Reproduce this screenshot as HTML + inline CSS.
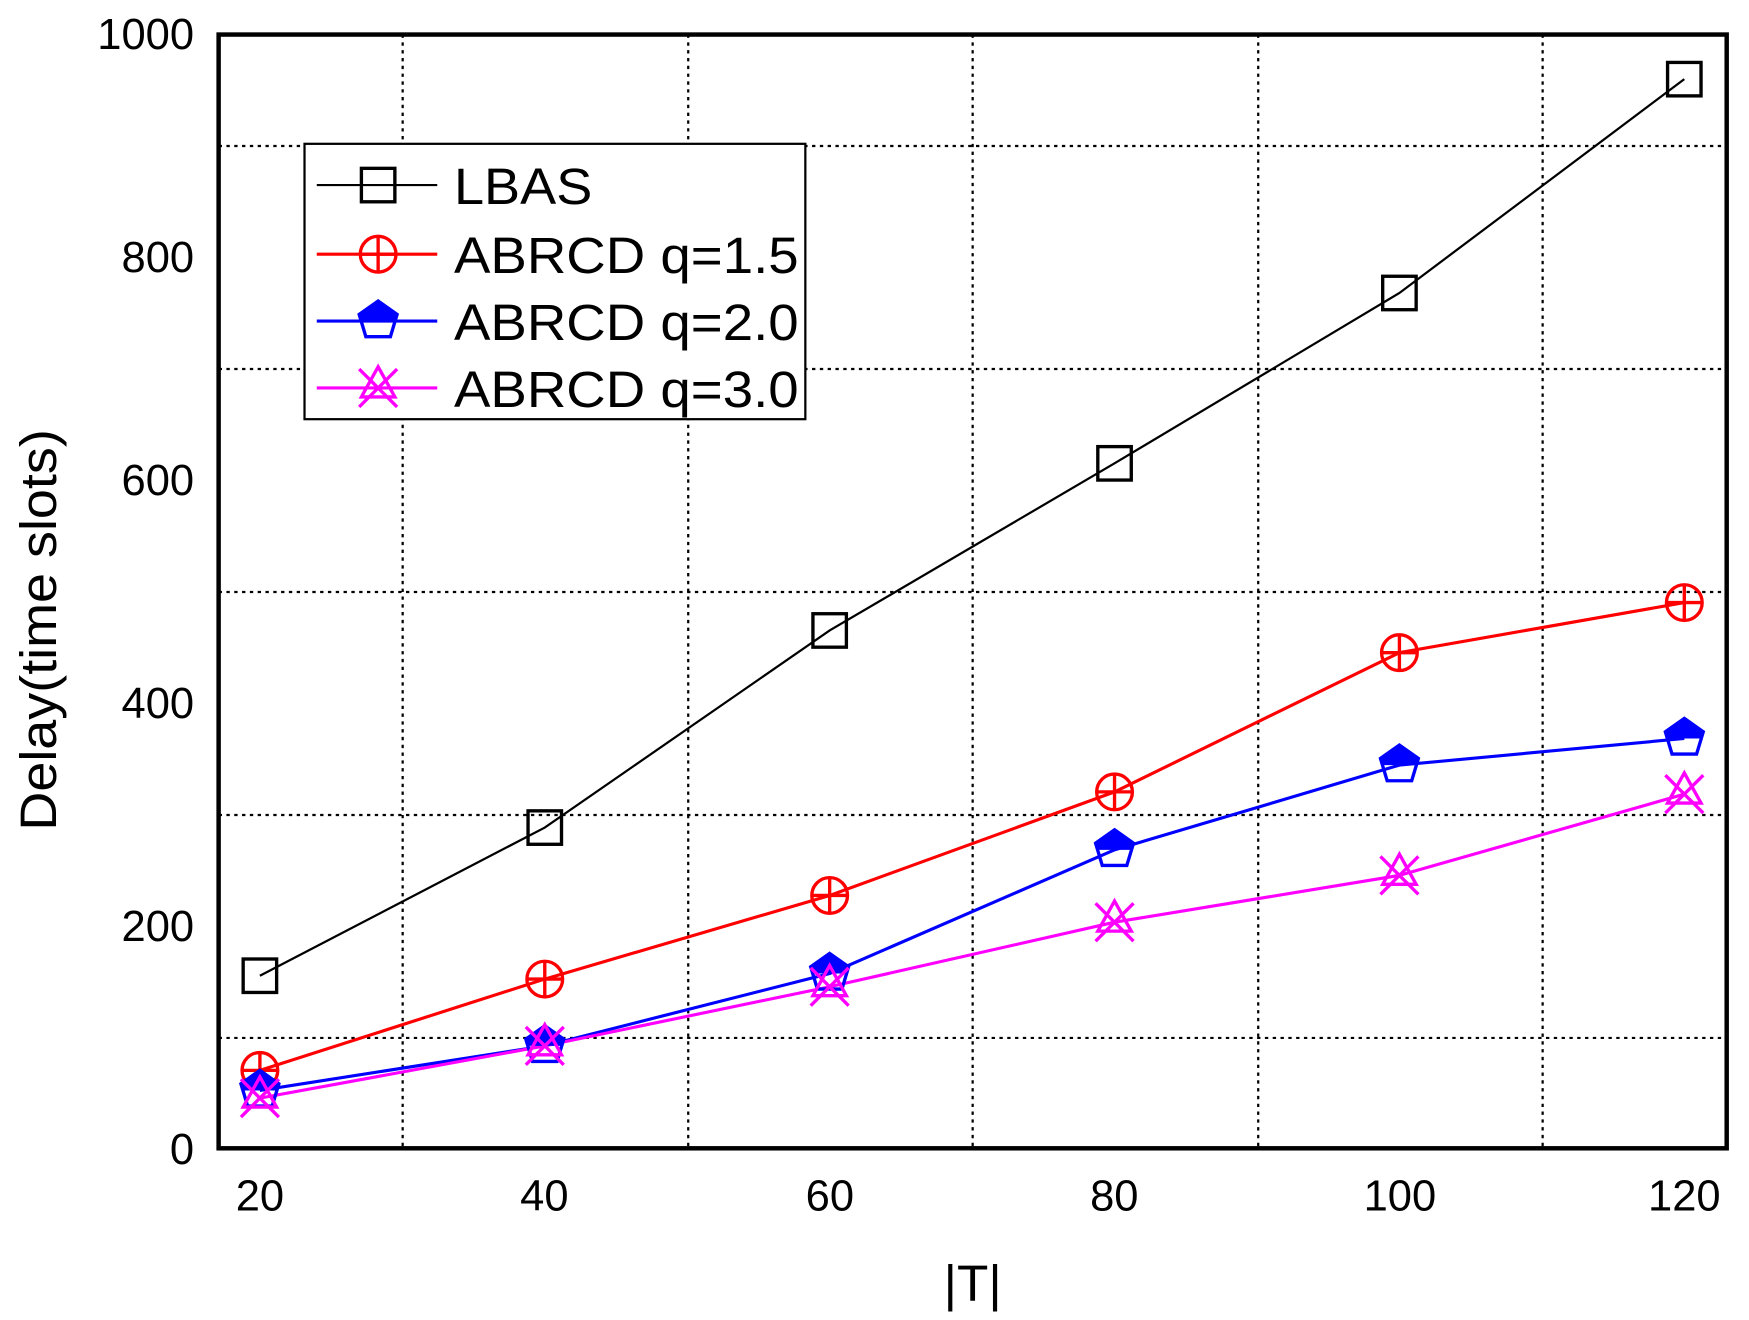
<!DOCTYPE html>
<html><head><meta charset="utf-8"><style>html,body{margin:0;padding:0;background:#fff;}svg{display:block}</style></head>
<body>
<svg width="1749" height="1320" viewBox="0 0 1568 1184" preserveAspectRatio="none" xmlns="http://www.w3.org/2000/svg" font-family="Liberation Sans, Arial, sans-serif">
<defs>
<g id="sq"><rect x="-15" y="-15" width="30" height="30" fill="none" stroke="#000" stroke-width="3"/></g>
<g id="ci"><circle r="16" fill="none" stroke="#f00" stroke-width="3"/><path d="M-16 0H16M0 -16V16" stroke="#f00" stroke-width="3"/></g>
<g id="pe"><polygon points="0,-18 17,-6 11,14 -11,14 -17,-6" fill="none" stroke="#00f" stroke-width="3"/><polygon points="0,-18 17,-6 15,0 -15,0 -17,-6" fill="#00f"/></g>
<g id="tx"><polygon points="0,-19 15,8 -15,8" fill="none" stroke="#f0f" stroke-width="3"/><path d="M-17 -17L17 17M17 -17L-17 17" stroke="#f0f" stroke-width="3"/></g>
</defs>
<g stroke="#000" stroke-width="2" stroke-dasharray="3,4" fill="none">
<path d="M361 31V1030M617 31V1030M872 31V1030M1128 31V1030M1383 31V1030"/>
<path d="M196 131H1548M196 331H1548M196 531H1548M196 731H1548M196 931H1548"/>
</g>
<polyline points="233,875.2 488.4,742.3 743.8,565.5 999.2,415.6 1254.6,262.8 1510,71" fill="none" stroke="#000" stroke-width="2"/>
<polyline points="233,960.1 488.4,878.2 743.8,803.2 999.2,710.3 1254.6,585.4 1510,540.5" fill="none" stroke="#f00" stroke-width="2.8"/>
<polyline points="233,978.1 488.4,938.1 743.8,873.2 999.2,762.3 1254.6,686.3 1510,662.4" fill="none" stroke="#00f" stroke-width="2.8"/>
<polyline points="233,985 488.4,938.1 743.8,885.1 999.2,827.2 1254.6,785.2 1510,712.3" fill="none" stroke="#f0f" stroke-width="2.8"/>
<use href="#sq" x="233" y="875.2"/><use href="#sq" x="488.4" y="742.3"/><use href="#sq" x="743.8" y="565.5"/><use href="#sq" x="999.2" y="415.6"/><use href="#sq" x="1254.6" y="262.8"/><use href="#sq" x="1510" y="71"/>
<use href="#ci" x="233" y="960.1"/><use href="#ci" x="488.4" y="878.2"/><use href="#ci" x="743.8" y="803.2"/><use href="#ci" x="999.2" y="710.3"/><use href="#ci" x="1254.6" y="585.4"/><use href="#ci" x="1510" y="540.5"/>
<use href="#pe" x="233" y="978.1"/><use href="#pe" x="488.4" y="938.1"/><use href="#pe" x="743.8" y="873.2"/><use href="#pe" x="999.2" y="762.3"/><use href="#pe" x="1254.6" y="686.3"/><use href="#pe" x="1510" y="662.4"/>
<use href="#tx" x="233" y="985"/><use href="#tx" x="488.4" y="938.1"/><use href="#tx" x="743.8" y="885.1"/><use href="#tx" x="999.2" y="827.2"/><use href="#tx" x="1254.6" y="785.2"/><use href="#tx" x="1510" y="712.3"/>
<rect x="196" y="31" width="1352" height="999" fill="none" stroke="#000" stroke-width="4"/>
<rect x="273" y="129" width="449" height="247" fill="#fff" stroke="#000" stroke-width="2"/>
<path d="M284 166H392" stroke="#000" stroke-width="2"/><use href="#sq" x="339" y="166"/>
<path d="M284 228H392" stroke="#f00" stroke-width="2.8"/><use href="#ci" x="339" y="228"/>
<path d="M284 288H392" stroke="#00f" stroke-width="2.8"/><use href="#pe" x="339" y="288"/>
<path d="M284 348H392" stroke="#f0f" stroke-width="2.8"/><use href="#tx" x="339" y="348"/>
<g font-size="46" fill="#000" lengthAdjust="spacingAndGlyphs">
<text x="407" y="183" textLength="124" lengthAdjust="spacingAndGlyphs">LBAS</text>
<text x="407" y="245" textLength="309" lengthAdjust="spacingAndGlyphs">ABRCD q=1.5</text>
<text x="407" y="305" textLength="309" lengthAdjust="spacingAndGlyphs">ABRCD q=2.0</text>
<text x="407" y="365" textLength="309" lengthAdjust="spacingAndGlyphs">ABRCD q=3.0</text>
</g>
<g font-size="39" text-anchor="end" fill="#000">
<text x="174" y="1044">0</text><text x="174" y="844">200</text><text x="174" y="644">400</text><text x="174" y="444">600</text><text x="174" y="244">800</text><text x="174" y="44">1000</text>
</g>
<g font-size="39" text-anchor="middle" fill="#000">
<text x="233" y="1086">20</text><text x="488" y="1086">40</text><text x="744" y="1086">60</text><text x="999" y="1086">80</text><text x="1255" y="1086">100</text><text x="1510" y="1086">120</text>
</g>
<text x="872" y="1167" font-size="46" text-anchor="middle">|T|</text>
<text transform="translate(50,565) rotate(-90)" font-size="46" text-anchor="middle" textLength="360" lengthAdjust="spacingAndGlyphs">Delay(time slots)</text>
</svg>
</body></html>
